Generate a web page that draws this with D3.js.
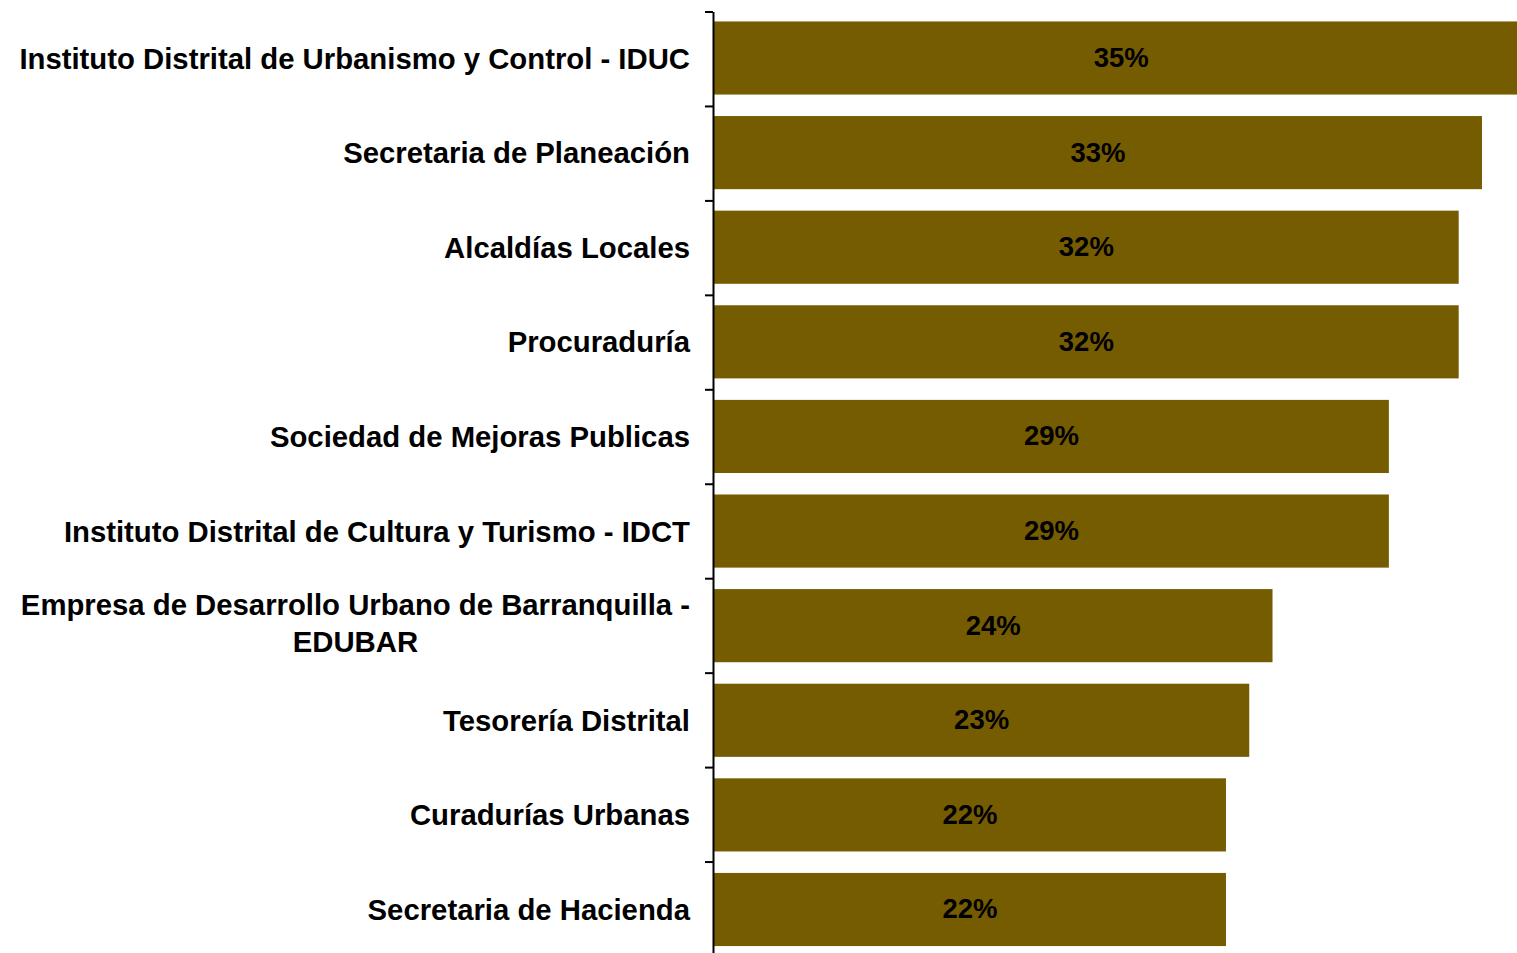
<!DOCTYPE html>
<html>
<head>
<meta charset="utf-8">
<script src="https://cdn.jsdelivr.net/npm/d3@7"></script>
<style>
  html, body { margin: 0; padding: 0; background: #ffffff; }
  svg { display: block; }
  text { font-family: "Liberation Sans", Arial, sans-serif; font-weight: bold; }
</style>
</head>
<body>
<svg id="chart" width="1517" height="953"></svg>
<script>
const categories = [
  ["Instituto Distrital de Urbanismo y Control - IDUC"],
  ["Secretaria de Planeación"],
  ["Alcaldías Locales"],
  ["Procuraduría"],
  ["Sociedad de Mejoras Publicas"],
  ["Instituto Distrital de Cultura y Turismo - IDCT"],
  ["Empresa de Desarrollo Urbano de Barranquilla -", "EDUBAR"],
  ["Tesorería Distrital"],
  ["Curadurías Urbanas"],
  ["Secretaria de Hacienda"]
];
const values = [35, 33, 32, 32, 29, 29, 24, 23, 22, 22];
const valueLabels = ["35%", "33%", "32%", "32%", "29%", "29%", "24%", "23%", "22%", "22%"];

const W = 1517, H = 953;
const svg = d3.select("#chart");
const barColor = "#765c00";

const keys = categories.map((c, i) => i);
const y0 = 11.5, y1 = 956;
const y = d3.scaleBand().domain(keys).range([y0, y1]).paddingInner(0.227).paddingOuter(0.105);
const x = d3.scaleLinear().domain([0, 35]).range([714, 1528.5]);

// bars
svg.append("g").selectAll("rect").data(values).join("rect")
  .attr("x", x(0))
  .attr("y", (d, i) => y(i))
  .attr("width", d => x(d) - x(0))
  .attr("height", y.bandwidth())
  .attr("fill", barColor);

// value labels
svg.append("g").selectAll("text").data(values).join("text")
  .attr("x", d => (x(0) + x(d)) / 2)
  .attr("y", (d, i) => y(i) + y.bandwidth() / 2 + 9)
  .attr("text-anchor", "middle")
  .attr("font-size", 27.5)
  .attr("fill", "#000")
  .text((d, i) => valueLabels[i]);

// axis with ticks at category boundaries
const n = categories.length;
const yb = d3.scaleLinear().domain([0, n]).range([y0, y1]);
const axis = d3.axisLeft(yb).tickValues(d3.range(n + 1)).tickSize(8).tickSizeOuter(0).tickFormat("");
const gAxis = svg.append("g").attr("transform", "translate(713,0)").call(axis);
gAxis.select(".domain").attr("stroke", "#000").attr("stroke-width", 2);
gAxis.selectAll(".tick line").attr("stroke", "#000").attr("stroke-width", 2);

// category labels
const labelRight = 690;
const lineH = 36.5;
const fs = 29.3;
categories.forEach((lines, i) => {
  const cy = y(i) + y.bandwidth() / 2;
  const g = svg.append("g");
  if (lines.length === 1) {
    g.append("text")
      .attr("x", labelRight)
      .attr("y", cy + 10.5)
      .attr("text-anchor", "end")
      .attr("font-size", fs)
      .attr("fill", "#000")
      .text(lines[0]);
  } else {
    const texts = lines.map((l, j) => g.append("text")
      .attr("y", cy + 8 + (j - (lines.length - 1) / 2) * lineH)
      .attr("text-anchor", "middle")
      .attr("font-size", fs)
      .attr("fill", "#000")
      .text(l));
    const maxW = d3.max(texts, t => t.node().getComputedTextLength());
    texts.forEach(t => t.attr("x", labelRight - maxW / 2));
  }
});
</script>
</body>
</html>
